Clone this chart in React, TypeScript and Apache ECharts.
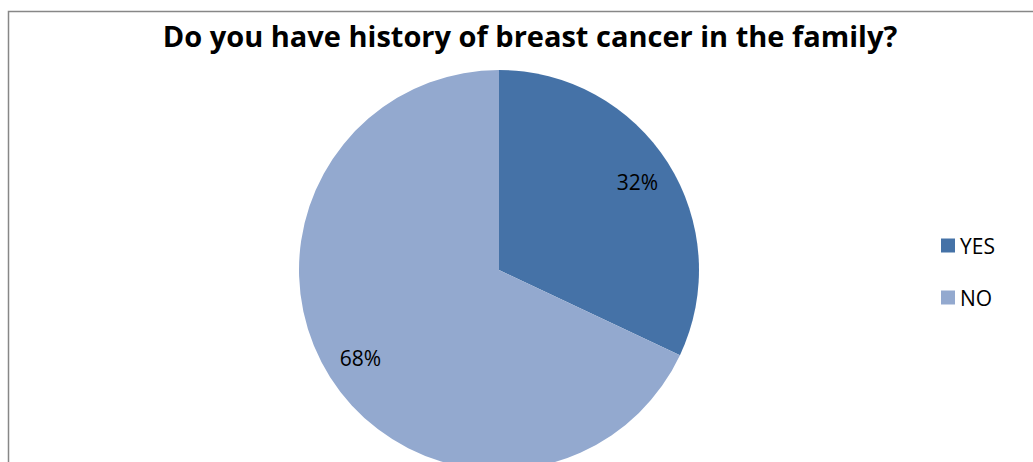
import React, { useEffect, useRef } from "react";
import * as echarts from "echarts";

const categories = ["YES", "NO"];
const values = [32, 68];
const colors = ["#4572A7", "#93A9CF"];
const titleText = "Do you have history of breast cancer in the family?";

export default function App() {
  const ref = useRef<HTMLDivElement>(null);
  useEffect(() => {
    if (!ref.current) return;
    const chart = echarts.init(ref.current, null, { renderer: "svg" });
    const data = categories.map((name, i) => ({
      name,
      value: values[i],
      itemStyle: { color: colors[i] },
    }));
    const font = "'Open Sans', 'Liberation Sans', sans-serif";
    chart.setOption({
      animation: false,
      backgroundColor: "#ffffff",
      title: {
        text: titleText,
        left: 525,
        textAlign: "center",
        top: 16,
        textStyle: { fontFamily: font, fontWeight: "bold", fontSize: 29, color: "#000" },
      },
      legend: {
        orient: "vertical",
        left: 936,
        top: 230,
        itemWidth: 14,
        itemHeight: 14,
        itemGap: 31,
        icon: "rect",
        data: categories,
        textStyle: { fontFamily: font, fontSize: 21, color: "#000" },
      },
      graphic: [
        {
          type: "rect",
          shape: { x: 8.5, y: 11.5, width: 1200, height: 600 },
          style: { fill: "none", stroke: "#878787", lineWidth: 1.5 },
          silent: true,
        },
      ],
      series: [
        {
          type: "pie",
          center: [499, 270],
          radius: [0, 200],
          startAngle: 90,
          clockwise: true,
          data,
          label: { show: false },
          labelLine: { show: false },
          emphasis: { disabled: true },
        },
        {
          type: "pie",
          center: [499, 270],
          radius: [122, 200],
          startAngle: 90,
          clockwise: true,
          silent: true,
          data: categories.map((name, i) => ({
            name,
            value: values[i],
            itemStyle: { color: "transparent" },
          })),
          label: {
            show: true,
            position: "inside",
            formatter: (p: any) => `${p.value}%`,
            fontFamily: font,
            fontSize: 21,
            color: "#000",
          },
          labelLine: { show: false },
          emphasis: { disabled: true },
        },
      ],
    });
    return () => chart.dispose();
  }, []);
  return (
    <div
      ref={ref}
      style={{ position: "fixed", left: 0, top: 0, width: 1033, height: 462 }}
    />
  );
}
